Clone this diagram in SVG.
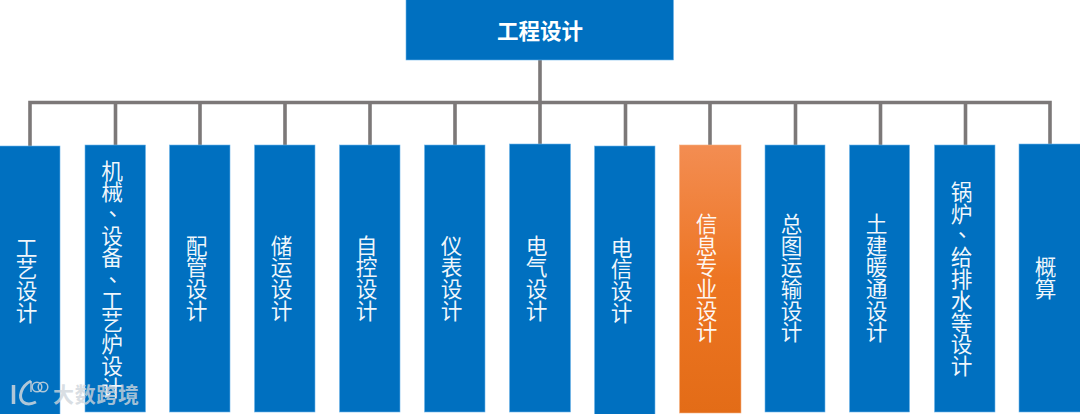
<svg xmlns="http://www.w3.org/2000/svg" width="1080" height="414" viewBox="0 0 1080 414">
<style>
.b{fill:#0070c0;stroke:#6db5ea;stroke-width:.6}
.o{fill:url(#og);stroke:#f5b183;stroke-width:.6}
.t{font-family:"Noto Sans CJK SC","Noto Sans",sans-serif;font-size:21.700px;fill:#fff;fill-opacity:.94;text-anchor:middle;writing-mode:vertical-rl;text-orientation:upright}
.r{font-family:"Noto Sans CJK SC","Noto Sans",sans-serif;font-size:21.500px;font-weight:700;fill:#fff;text-anchor:middle}
.c{fill:none;stroke:#7c7878;stroke-width:3.600}
.w{font-family:"Noto Sans CJK SC","Noto Sans",sans-serif;font-size:21px;font-weight:700;fill:#cfd6dc;fill-opacity:.8}
.l{fill:none;stroke:#cfd6dc;stroke-opacity:.85}
</style>
<defs><linearGradient id="og" x1="0" y1="0" x2="0" y2="1"><stop offset="0" stop-color="#f38d52"/><stop offset=".5" stop-color="#ed7523"/><stop offset="1" stop-color="#e36c17"/></linearGradient></defs>
<rect width="1080" height="414" fill="#fff"/>
<g id="connectors" class="c">
<path d="M540 60V146M30 146V102.500H1050V146M115.500 102.500V145M200 102.500V145M285 102.500V145M370 102.500V145M455 102.500V145M625.500 102.500V146M710 102.500V145M795.500 102.500V145M880.500 102.500V145M965.500 102.500V145"/>
</g>
<g id="root"><rect class="b" x="406" y="-1" width="267.500" height="61"/><text class="r" x="540" y="38.500">工程设计</text></g>
<g id="n1"><rect class="b" x="-1" y="146" width="61" height="269"/><text class="t" x="26.500" y="280">工艺设计</text></g>
<g id="n2"><rect class="b" x="85" y="145" width="60.500" height="267"/><text class="t" x="112" y="279">机械<tspan dx="-6" dy="7">、</tspan><tspan dx="6" dy="-7">设备</tspan><tspan dx="-6" dy="7">、</tspan><tspan dx="6" dy="-7">工艺炉设计</tspan></text></g>
<g id="n3"><rect class="b" x="169.500" y="145" width="60.500" height="267"/><text class="t" x="196.500" y="278">配管设计</text></g>
<g id="n4"><rect class="b" x="254.500" y="145" width="60.500" height="267"/><text class="t" x="281.500" y="278">储运设计</text></g>
<g id="n5"><rect class="b" x="339.500" y="145" width="60.500" height="267"/><text class="t" x="366.500" y="278">自控设计</text></g>
<g id="n6"><rect class="b" x="424.500" y="145" width="60.500" height="267"/><text class="t" x="451.500" y="278">仪表设计</text></g>
<g id="n7"><rect class="b" x="509.500" y="144" width="61" height="268"/><text class="t" x="536.500" y="278">电气设计</text></g>
<g id="n8"><rect class="b" x="594.500" y="146" width="60.500" height="269"/><text class="t" x="621.500" y="280">电信设计</text></g>
<g id="n9"><rect class="o" x="679.500" y="145" width="61.500" height="268"/><text class="t" x="706.500" y="278">信息专业设计</text></g>
<g id="n10"><rect class="b" x="765" y="145" width="60" height="267"/><text class="t" x="791.500" y="278">总图运输设计</text></g>
<g id="n11"><rect class="b" x="849.500" y="145" width="60" height="267"/><text class="t" x="876.500" y="278">土建暖通设计</text></g>
<g id="n12"><rect class="b" x="934.500" y="145" width="60.500" height="267"/><text class="t" x="961.500" y="279">锅炉<tspan dx="-6" dy="7">、</tspan><tspan dx="6" dy="-7">给排水等设计</tspan></text></g>
<g id="n13"><rect class="b" x="1019" y="144" width="62" height="268"/><text class="t" x="1045.500" y="278">概算</text></g>
<g id="watermark">
<path class="l" stroke-width="3.500" d="M13.500 385V404"/>
<path class="l" stroke-width="3" d="M31 381C21 386 18 397 23 402C27 405 32 404 36 402"/>
<path class="l" stroke-width="1.500" d="M31 381V392"/>
<circle class="l" stroke-width="1.500" cx="37" cy="387" r="4.800"/><circle class="l" stroke-width="1.500" cx="43" cy="387" r="4.800"/>
<text class="w" x="53" y="402" textLength="86">大数跨境</text>
</g>
</svg>
